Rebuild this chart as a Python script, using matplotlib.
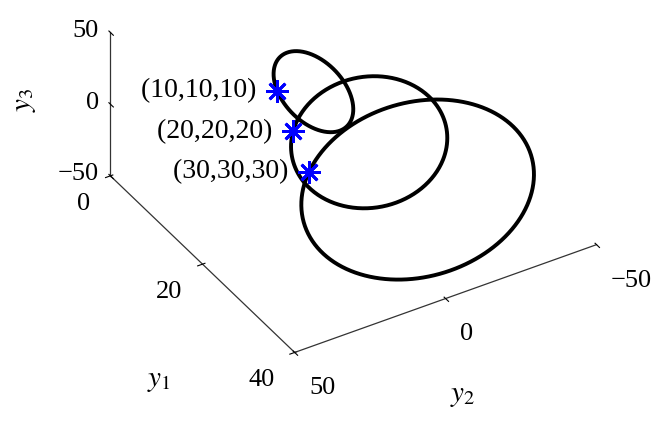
import matplotlib
matplotlib.use("Agg")
import matplotlib.pyplot as plt
import numpy as np

plt.rcParams['font.family'] = ['Liberation Serif', 'DejaVu Serif']
plt.rcParams['mathtext.fontset'] = 'stix'

# starting points of the three closed orbits
starts = [(10, 10, 10), (20, 20, 20), (30, 30, 30)]
start_labels = ['(10,10,10)', '(20,20,20)', '(30,30,30)']

centres = [(10, -2.0, 0.4), (20, -5.2, -6.5), (30, -6.0, -9.3)]
u_vecs = [(0, 12.0, 9.6), (0, 25.2, 26.5), (0, 36.0, 39.3)]
v_vecs = [(0, -5.5, -32.4), (4, 12.0, -24.1), (10, 29.0, -9.0)]

y1_ticks = [0, 20, 40]
y2_ticks = [-50, 0, 50]
y3_ticks = [-50, 0, 50]

W, H = 654, 421
fig = plt.figure(figsize=(W / 100, H / 100), dpi=100)
S = 515  # square axes size in pixels
cx, cy = 346.5, 145.5
ax = fig.add_axes([(cx - S / 2) / W, 1 - (cy + S / 2) / H, S / W, S / H],
                  projection='3d', proj_type='ortho')
ax.set_box_aspect((2, 2, 1))
ax.view_init(elev=35.8, azim=-31.4)

t = np.linspace(0, 2 * np.pi, 400)
for c, u, v in zip(centres, u_vecs, v_vecs):
    c, u, v = np.array(c), np.array(u), np.array(v)
    pts = c[:, None] + np.outer(u, np.cos(t)) + np.outer(v, np.sin(t))
    ax.plot(pts[0], pts[1], pts[2], color='black', lw=2.8)

for (a, b, c), lab in zip(starts, start_labels):
    ax.plot([a], [b], [c], marker=(8, 2, 0), color='blue', ms=16, mew=2)
    ax.text(a, b, c, lab + '   ', ha='right', va='center', fontsize=20)

ax.set_xlim(0, 40)
ax.set_ylim(50, -50)
ax.set_zlim(-50, 50)
ax.set_xticks(y1_ticks)
ax.set_yticks(y2_ticks)
ax.set_zticks(y3_ticks)
ax.tick_params(labelsize=19)
ax.xaxis.set_tick_params(pad=5)
ax.yaxis.set_tick_params(pad=7)
ax.zaxis.set_tick_params(pad=-3.5)
for lab in ax.xaxis.get_ticklabels():
    lab.set_ha('right')
for lab in ax.yaxis.get_ticklabels():
    lab.set_ha('left')
for lab in ax.zaxis.get_ticklabels():
    lab.set_ha('right')
    lab.set_va('center')

ax.grid(False)
for axis in (ax.xaxis, ax.yaxis, ax.zaxis):
    axis.set_pane_color((1, 1, 1, 0))
    axis.pane.set_edgecolor('none')
    axis.line.set_color('0.2')
    axis.line.set_linewidth(0.9)
    axis.label.set_visible(False)
    axis.offsetText.set_visible(False)
ax.zaxis.set_ticks_position('upper')

# axis titles placed where the reference has them
fig.text(159 / W, 1 - 381 / H, '$y_1$', fontsize=21, ha='center', va='center')
fig.text(463 / W, 1 - 396 / H, '$y_2$', fontsize=21, ha='center', va='center')
fig.text(25 / W, 1 - 100 / H, '$y_3$', fontsize=21, ha='center', va='center',
         rotation=90)

fig.savefig('out.png', dpi=100)
